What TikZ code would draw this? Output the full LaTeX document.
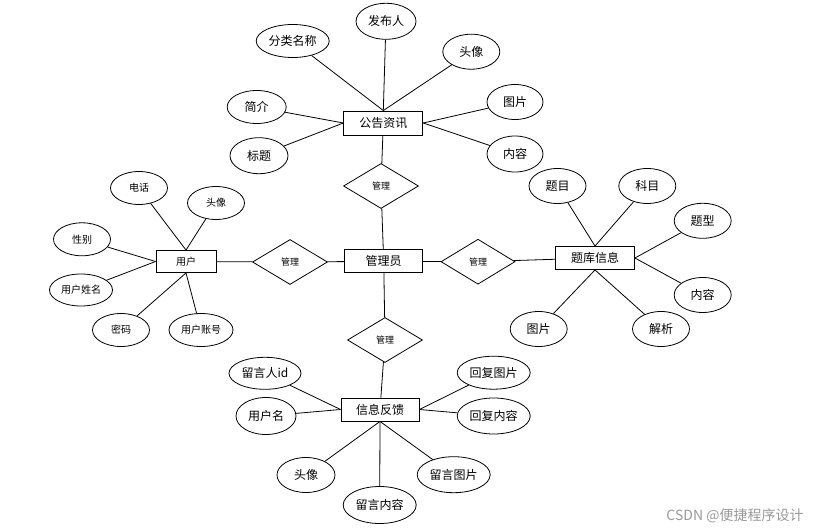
\documentclass[tikz,border=0pt]{standalone}
\usepackage{fontspec}
\newfontfamily\cjk{Noto Sans CJK SC}
\usetikzlibrary{shapes.geometric}

\begin{document}
\begin{tikzpicture}[
    x=1pt, y=-1pt,
    entity/.style={draw, line width=0.9pt, fill=white, inner sep=0pt, minimum width=78pt, minimum height=23pt, font=\cjk\fontsize{12}{14}\selectfont},
    attr/.style={draw, ellipse, line width=0.8pt, inner sep=0pt, minimum width=57pt, minimum height=35pt, font=\cjk\fontsize{12}{14}\selectfont},
    small/.style={font=\cjk\fontsize{10}{12}\selectfont},
    rel/.style={draw, diamond, line width=0.8pt, inner sep=0pt, minimum width=75pt, minimum height=45pt, font=\cjk\fontsize{9}{10}\selectfont},
    link/.style={line width=0.8pt}
]
\useasboundingbox (0,0) rectangle (822,532);

% entities
\node[entity] (admin) at (383.7,261.3) {管理员};
\node[entity, minimum width=79pt, minimum height=24pt] (notice) at (383.3,123) {公告资讯};
\node[entity, small, minimum width=60pt, minimum height=22pt] (user) at (186,261.5) {用户};
\node[entity, minimum width=79pt] (bank) at (595,258) {题库信息};
\node[entity] (feedback) at (380,409.5) {信息反馈};

% relations
\node[rel] (r1) at (381,186) {管理};
\node[rel, minimum width=74pt] (r2) at (478,261.7) {管理};
\node[rel] (r3) at (385,340) {管理};
\node[rel] (r4) at (290,262) {管理};

\draw[link] (notice) -- (r1) -- (admin);
\draw[link] (admin) -- (r2) -- (bank);
\draw[link] (admin) -- (r3) -- (feedback);
\draw[link] (admin) -- (r4) -- (user);

% notice attributes
\node[attr, minimum width=60pt, minimum height=36pt] (n1) at (386,21.3) {发布人};
\node[attr, minimum width=73pt, minimum height=33pt] (n2) at (292.7,41) {分类名称};
\node[attr] (n3) at (471.3,51.7) {头像};
\node[attr, minimum width=59pt, minimum height=33pt] (n4) at (256.7,107) {简介};
\node[attr, minimum width=58pt, minimum height=36pt] (n5) at (259,155.7) {标题};
\node[attr, minimum width=56pt] (n6) at (515,102) {图片};
\node[attr, minimum width=56pt, minimum height=36pt] (n7) at (515,154) {内容};
\foreach \a in {n1,n2,n3} \draw[link] (\a) -- (notice.north);
\foreach \a in {n4,n5} \draw[link] (\a) -- (notice.west);
\foreach \a in {n6,n7} \draw[link] (\a) -- (notice.east);

% user attributes
\node[attr, small, minimum height=33pt] (u1) at (139,188) {电话};
\node[attr, small, minimum height=33pt] (u2) at (216,203) {头像};
\node[attr, small, minimum height=33pt] (u3) at (82,239.3) {性别};
\node[attr, small, minimum width=63pt, minimum height=32pt] (u4) at (81,290) {用户姓名};
\node[attr, small, minimum height=33pt] (u5) at (121,330) {密码};
\node[attr, small, minimum width=64pt, minimum height=33pt] (u6) at (201,330) {用户账号};
\foreach \a in {u1,u2} \draw[link] (\a) -- (user.north);
\foreach \a in {u3,u4} \draw[link] (\a) -- (user.west);
\foreach \a in {u5,u6} \draw[link] (\a) -- (user.south);

% question bank attributes
\node[attr] (b1) at (557.5,186) {题目};
\node[attr] (b2) at (647.3,186) {科目};
\node[attr] (b3) at (702.7,220.8) {题型};
\node[attr] (b4) at (702.7,295) {内容};
\node[attr] (b5) at (538.7,329) {图片};
\node[attr] (b6) at (661,329) {解析};
\foreach \a in {b1,b2} \draw[link] (\a) -- (bank.north);
\foreach \a in {b3,b4} \draw[link] (\a) -- (bank.east);
\foreach \a in {b5,b6} \draw[link] (\a) -- (bank.south);

% feedback attributes
\node[attr, minimum width=72pt, minimum height=32pt] (f1) at (265,373.3) {留言人id};
\node[attr, minimum width=60pt, minimum height=37pt] (f2) at (266,416) {用户名};
\node[attr, minimum width=73pt, minimum height=33pt] (f3) at (493.7,372.7) {回复图片};
\node[attr, minimum width=73pt, minimum height=36pt] (f4) at (493.7,416) {回复内容};
\node[attr, minimum width=58pt] (f5) at (306,475) {头像};
\node[attr, minimum width=73pt, minimum height=37pt] (f6) at (379.7,505) {留言内容};
\node[attr, minimum width=73pt, minimum height=36pt] (f7) at (453.7,474.7) {留言图片};
\foreach \a in {f1,f2} \draw[link] (\a) -- (feedback.west);
\foreach \a in {f3,f4} \draw[link] (\a) -- (feedback.east);
\foreach \a in {f5,f6,f7} \draw[link] (\a) -- (feedback.south);

\node[font=\cjk\fontsize{14}{16}\selectfont, text=black!40] (mark) at (735,516) {CSDN @便捷程序设计};
\end{tikzpicture}
\end{document}
